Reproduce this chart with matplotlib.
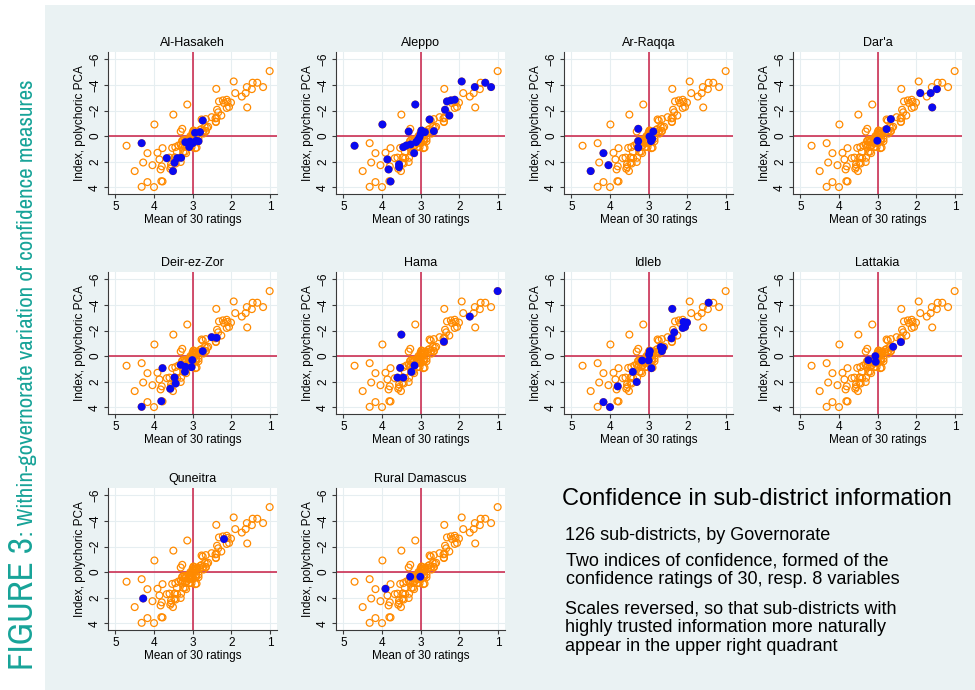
import matplotlib
matplotlib.use('Agg')
import matplotlib.pyplot as plt
from matplotlib import font_manager
from matplotlib.font_manager import FontProperties
from matplotlib.patches import Rectangle

# ---------------- data (x = mean of 30 ratings, y = polychoric PCA index) ----------------
governorates = ["Al-Hasakeh", "Aleppo", "Ar-Raqqa", "Dar'a", "Deir-ez-Zor",
                "Hama", "Idleb", "Lattakia", "Quneitra", "Rural Damascus"]

hasakeh_x = [4.32, 3.67, 3.47, 3.51, 3.40, 3.30, 3.19, 3.07, 3.09, 2.94, 2.91, 2.85, 2.81, 2.74, 3.00]
hasakeh_y = [0.55, 1.72, 2.08, 2.73, 1.72, 1.69, 0.47, 0.42, 0.85, -0.26, 0.36, 0.40, -0.31, -1.22, 0.55]

aleppo_x = [4.71, 3.99, 3.86, 3.83, 3.78, 3.56, 3.56, 3.31, 3.14, 3.17, 3.45, 3.37, 3.26, 3.12, 3.07,
            3.03, 3.00, 2.98, 2.89, 2.77, 2.66, 2.37, 2.32, 2.26, 2.22, 2.12, 1.94, 1.60, 1.33, 1.18]
aleppo_y = [0.75, -0.91, 1.82, 2.60, 3.54, 2.21, 2.42, -0.36, -2.47, 1.33, 0.86, 0.73, 0.65, 0.47, 0.29,
            0.08, -0.18, -0.44, -0.31, -1.30, -0.39, -2.06, -2.71, -1.61, -2.79, -2.84, -4.27, -3.83, -4.17, -3.83]

raqqa_x = [4.50, 4.17, 4.04, 3.27, 3.27, 3.27, 2.98, 2.94, 2.88, 2.91]
raqqa_y = [2.73, 1.33, 2.27, -0.57, 0.39, 0.89, 0.03, 0.39, -0.36, 0.21]

daraa_x = [3.01, 2.77, 2.66, 1.90, 1.63, 1.47, 1.59]
daraa_y = [0.36, -0.55, -1.33, -3.36, -3.36, -3.67, -2.24]

deir_x = [4.32, 3.81, 3.58, 3.44, 3.47, 3.78, 3.31, 3.19, 3.20, 3.03, 3.01, 2.74, 2.51, 2.38]
deir_y = [3.96, 3.52, 2.55, 2.14, 1.67, 0.94, 0.68, 0.83, 1.22, 0.86, 0.31, -0.39, -1.48, -1.43]

hama_x = [3.50, 3.53, 3.60, 3.45, 3.16, 3.24, 2.40, 1.73, 1.01]
hama_y = [-1.68, 0.92, 1.68, 1.68, 0.73, 1.23, -1.13, -3.09, -5.08]

idleb_x = [4.17, 4.00, 3.80, 3.31, 3.41, 3.17, 2.93, 3.00, 2.99, 2.97, 2.69, 2.66, 2.63, 2.41, 2.34,
           2.39, 2.10, 2.06, 2.12, 2.01, 1.45]
idleb_y = [3.59, 3.98, 2.36, 2.02, 1.23, 0.34, 0.94, 0.34, -0.13, -0.39, -0.71, -0.39, -0.65, -1.39, -1.86,
           -3.69, -2.67, -2.28, -2.20, -2.62, -4.17]

lattakia_x = [3.24, 3.06, 3.05, 2.60, 2.40]
lattakia_y = [0.31, 0.00, 0.45, -0.73, -1.10]

quneitra_x = [4.28, 2.19]
quneitra_y = [2.06, -2.58]

rdamascus_x = [3.91, 3.27, 3.01]
rdamascus_y = [1.30, 0.36, 0.36]

# sub-districts of governorates without their own panel
other_x = [3.05, 2.95, 3.10, 2.85, 3.15, 2.90, 3.00, 2.80, 3.20, 2.72]
other_y = [0.10, -0.10, 0.55, 0.20, 0.70, 0.90, -0.30, -0.50, 0.30, -0.20]

x_ticks = [5, 4, 3, 2, 1]
y_ticks = [-6, -4, -2, 0, 2, 4]

gov_x = [hasakeh_x, aleppo_x, raqqa_x, daraa_x, deir_x, hama_x, idleb_x, lattakia_x, quneitra_x, rdamascus_x]
gov_y = [hasakeh_y, aleppo_y, raqqa_y, daraa_y, deir_y, hama_y, idleb_y, lattakia_y, quneitra_y, rdamascus_y]

all_x = sum(gov_x, []) + other_x
all_y = sum(gov_y, []) + other_y

# ---------------- styling ----------------
W, H = 975, 690
BG = '#EAF2F3'
ORANGE = '#FF8A00'
BLUE = '#0A0AF0'
RED = '#C81E45'
TEAL = '#17A398'
FONT = 'Liberation Sans'

plt.rcParams['font.family'] = [FONT, 'DejaVu Sans']

fig = plt.figure(figsize=(W / 100, H / 100), dpi=100)
fig.patch.set_facecolor('white')
fig.add_artist(Rectangle((45 / W, 0), 1 - 45 / W, 1 - 5 / H, transform=fig.transFigure,
                         facecolor=BG, edgecolor='none', zorder=0))

col_left = [108, 336, 564, 793]
row_top = [52, 272, 488]
aw, ah = 169, 142

for i, name in enumerate(governorates):
    r, c = divmod(i, 4)
    l = col_left[c]
    t = row_top[r]
    ax = fig.add_axes([l / W, 1 - (t + ah) / H, aw / W, ah / H])
    ax.set_facecolor('white')
    ax.set_xlim(5.19, 0.82)
    ax.set_ylim(4.52, -6.57)
    ax.set_xticks(x_ticks)
    ax.set_yticks(y_ticks)
    ax.grid(True, color='#E6EEF1', lw=0.8, zorder=0)
    ax.set_axisbelow(True)
    for s in ['top', 'right']:
        ax.spines[s].set_visible(False)
    for s in ['left', 'bottom']:
        ax.spines[s].set_color('#3a3a3a')
        ax.spines[s].set_linewidth(0.8)
    ax.tick_params(length=3, width=0.8, color='#3a3a3a', labelsize=8.5, pad=2)
    for lab in ax.get_yticklabels():
        lab.set_rotation(90)
        lab.set_va('center')
    ax.axvline(3, color=RED, lw=1.1, zorder=1)
    ax.axhline(0, color=RED, lw=1.1, zorder=1)
    ax.scatter(all_x, all_y, s=24, facecolors='none', edgecolors=ORANGE, linewidths=0.9, zorder=2)
    ax.scatter(gov_x[i], gov_y[i], s=32, color=BLUE, edgecolors='none', zorder=3)
    ax.set_title(name, fontsize=9, pad=4)
    ax.set_xlabel('Mean of 30 ratings', fontsize=8.5, labelpad=1)
    ax.set_ylabel('Index, polychoric PCA', fontsize=8.5, labelpad=2)

# ---------------- text block ----------------
def ftext(x, y, s, size):
    fig.text(x / W, 1 - y / H, s, fontsize=size, ha='left', va='baseline', color='black')

ftext(562, 505, 'Confidence in sub-district information', 17)
ftext(565, 540, '126 sub-districts, by Governorate', 13)
ftext(566, 566, 'Two indices of confidence, formed of the', 13)
ftext(566, 584, 'confidence ratings of 30, resp. 8 variables', 13)
ftext(565, 613, 'Scales reversed, so that sub-districts with', 13)
ftext(565, 632, 'highly trusted information more naturally', 13)
ftext(565, 651, 'appear in the upper right quadrant', 13)

# ---------------- vertical figure title (condensed face if one is installed) ----------------
def pick_condensed():
    ttf = font_manager.fontManager.ttflist
    def wnum(f):
        try:
            return int(f.weight)
        except Exception:
            return {'normal': 400, 'regular': 400, 'medium': 500, 'book': 400}.get(str(f.weight), 700)
    best = None
    for f in ttf:
        nm = f.name
        st = str(f.stretch)
        fn = f.fname.lower()
        if 'mono' in nm.lower() or 'serif' in nm.lower() or f.style != 'normal':
            continue
        if 'narrow' in nm.lower() or 'narrow' in fn:
            score = 0
        elif st in ('condensed', 'semi-condensed') or 'condensed' in nm.lower() or 'condensed' in fn:
            if 'extra' in fn or 'ultra' in fn or 'semicondensed' in fn:
                score = 2
            else:
                score = 1
        else:
            continue
        w = wnum(f)
        score = score * 1000 + abs(w - 450)
        if best is None or score < best[0]:
            best = (score, f.fname)
    return best[1] if best else None

cfile = pick_condensed()
if cfile:
    def tprops(size):
        return FontProperties(fname=cfile, size=size)
else:
    def tprops(size):
        return FontProperties(family=[FONT, 'DejaVu Sans'], size=size)

bx, by = 33, 670
big = fig.text(bx / W, 1 - by / H, 'FIGURE 3', fontproperties=tprops(20),
               color=TEAL, rotation=90, rotation_mode='anchor', ha='left', va='baseline')
fig.canvas.draw()
rend = fig.canvas.get_renderer()
L = big.get_window_extent(rend).height
big.set_fontproperties(tprops(20 * 133 / L))
fig.canvas.draw()
L = big.get_window_extent(rend).height
small = fig.text(bx / W, 1 - (by - L - 1) / H, ': Within-governorate variation of confidence measures',
                 fontproperties=tprops(13), color=TEAL, rotation=90,
                 rotation_mode='anchor', ha='left', va='baseline')
fig.canvas.draw()
L2 = small.get_window_extent(rend).height
small.set_fontproperties(tprops(13 * 458 / L2))

fig.savefig('out.png', dpi=100, facecolor=fig.get_facecolor())
